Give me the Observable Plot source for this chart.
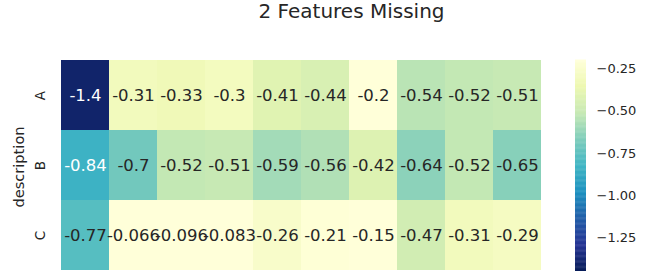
<!DOCTYPE html>
<html>
<head>
<meta charset="utf-8">
<script src="https://cdn.jsdelivr.net/npm/d3@7"></script>
<script src="https://cdn.jsdelivr.net/npm/@observablehq/plot@0.6"></script>
<style>
  html, body { margin: 0; padding: 0; background: #fff; }
  #wrap { position: relative; width: 652px; height: 276px; font-family: "DejaVu Sans", sans-serif; color: #262626; overflow: hidden; }
  #title { position: absolute; left: 0; top: 0; width: 703px; text-align: center; font-size: 20px; line-height: 23px; }
  #main { position: absolute; left: 0; top: 0; }
  #cbar { position: absolute; left: 565px; top: 0; }
  svg { font-family: "DejaVu Sans", sans-serif; }
</style>
</head>
<body>
<div id="wrap">
  <div id="main"></div>
  <div id="cbar"></div>
  <div id="title">2 Features Missing</div>
</div>
<script>
// ---- data ----
const rows = ["A", "B", "C"];
const columns = [0, 1, 2, 3, 4, 5, 6, 7, 8, 9];
const rowA = [-1.4, -0.31, -0.33, -0.3, -0.41, -0.44, -0.2, -0.54, -0.52, -0.51];
const rowB = [-0.84, -0.7, -0.52, -0.51, -0.59, -0.56, -0.42, -0.64, -0.52, -0.65];
const rowC = [-0.77, -0.066, -0.096, -0.083, -0.26, -0.21, -0.15, -0.47, -0.31, -0.29];
const yLabel = "description";
const colorMin = -1.447;
const colorMax = -0.2;
const cbTicks = [-0.25, -0.5, -0.75, -1.0, -1.25];
const palette = ["#081d58", "#253494", "#225ea8", "#1d91c0", "#41b6c4", "#7fcdbb", "#c7e9b4", "#edf8b1", "#ffffd9"];

const table = [];
[rowA, rowB, rowC].forEach((vals, r) => vals.forEach((v, c) => table.push({row: rows[r], col: columns[c], value: v})));

const stops = palette.map((_, i) => colorMin + (colorMax - colorMin) * i / (palette.length - 1));
const colorOpts = {type: "linear", domain: stops, range: palette, interpolate: "rgb", clamp: true};

// text colour like seaborn: dark text on light cells, white on dark ones
const cfun = d3.scaleLinear().domain(stops).range(palette).interpolate(d3.interpolateRgb).clamp(true);
function lum(c) {
  const k = d3.rgb(c);
  const f = x => { x /= 255; return x <= 0.03928 ? x / 12.92 : Math.pow((x + 0.055) / 1.055, 2.4); };
  return 0.2126 * f(k.r) + 0.7152 * f(k.g) + 0.0722 * f(k.b);
}
const isLight = d => lum(cfun(d.value)) > 0.408;
const fmt = v => String(v);

const main = Plot.plot({
  width: 565, height: 276,
  marginLeft: 57, marginRight: 20, marginTop: 60, marginBottom: 6,
  x: {type: "band", domain: columns, padding: 0, axis: null},
  y: {type: "band", domain: rows, padding: 0, axis: null},
  color: colorOpts,
  style: {fontFamily: "DejaVu Sans, sans-serif", color: "#262626"},
  marks: [
    Plot.cell(table, {x: "col", y: "row", fill: "value", inset: 0}),
    Plot.text(table.filter(isLight), {x: "col", y: "row", text: d => fmt(d.value), fill: "#262626", fontSize: 16.5}),
    Plot.text(table.filter(d => !isLight(d)), {x: "col", y: "row", text: d => fmt(d.value), fill: "white", fontSize: 16.5}),
    Plot.text(rows, {y: d => d, text: d => d, frameAnchor: "left", textAnchor: "middle", rotate: -90, dx: -17, fontSize: 13.5, fill: "#262626"}),
    Plot.text([yLabel], {text: d => d, frameAnchor: "left", textAnchor: "middle", rotate: -90, dx: -38, dy: 1.5, fontSize: 14.6, fill: "#262626"})
  ]
});
document.getElementById("main").appendChild(main);

const N = 250;
const step = (colorMax - colorMin) / N;
const cbar = Plot.plot({
  width: 87, height: 276,
  marginLeft: 10, marginRight: 66, marginTop: 60, marginBottom: 5,
  x: {domain: [0, 1], axis: null},
  y: {domain: [colorMin, colorMax]},
  color: colorOpts,
  style: {fontFamily: "DejaVu Sans, sans-serif", color: "#262626"},
  marks: [
    Plot.rect(d3.range(N), {x1: 0, x2: 1, y1: i => colorMin + i * step, y2: i => colorMin + (i + 1) * step + step * 0.5, fill: i => colorMin + (i + 0.5) * step}),
    Plot.axisY({anchor: "right", ticks: cbTicks, tickSize: 0, tickPadding: 10, fontSize: 13, label: null,
      tickFormat: d => d.toFixed(2).replace("-", "\u2212")})
  ]
});
document.getElementById("cbar").appendChild(cbar);
</script>
</body>
</html>
